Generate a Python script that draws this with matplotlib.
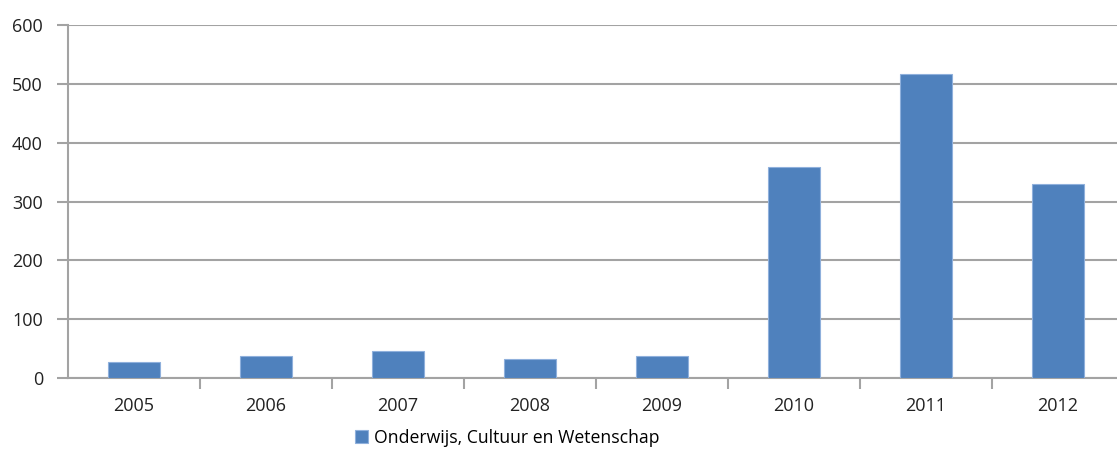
import numpy as np
import matplotlib.pyplot as plt

# yearly amounts for the education/culture/science ministry
years = ["2005", "2006", "2007", "2008", "2009", "2010", "2011", "2012"]
values = [28, 38, 46, 32, 38, 359, 517, 329]
series_name = "Onderwijs, Cultuur en Wetenschap"

plt.rcParams["font.family"] = ["Open Sans", "DejaVu Sans"]

grey = "#a3a3a3"
bar_color = "#4f81bd"

fig = plt.figure(figsize=(11.17, 4.58), dpi=100)
ax = fig.add_axes([68 / 1117, 1 - 378 / 458, 1056 / 1117, (378 - 25) / 458])

x = np.arange(len(years))
bars = ax.bar(x, values, width=0.4, color=bar_color, edgecolor="#8fb0dc",
              linewidth=0.8, zorder=3, label=series_name)

ax.set_xlim(-0.5, len(years) - 0.5)
ax.set_ylim(0, 600)
ax.set_yticks(np.arange(0, 601, 100))
ax.grid(axis="y", color=grey, linewidth=1.5, zorder=0)

# category labels in the middle, tick marks on the boundaries
ax.set_xticks(x)
ax.set_xticklabels(years, fontsize=13, color="#222222")
ax.set_xticks(np.arange(0.5, len(years) - 0.5, 1), minor=True)
ax.tick_params(axis="x", which="major", length=0, pad=14)
ax.tick_params(axis="x", which="minor", length=8, width=1.5, color=grey)
ax.tick_params(axis="y", length=8, width=1.5, color=grey, pad=10,
               labelsize=13, labelcolor="#222222")

for side in ["top", "right"]:
    ax.spines[side].set_visible(False)
for side in ["left", "bottom"]:
    ax.spines[side].set_color(grey)
    ax.spines[side].set_linewidth(1.5)

fig.legend(handles=[bars], labels=[series_name], loc="lower left",
           bbox_to_anchor=(339 / 1117, -0.01), frameon=False, fontsize=12.7,
           handlelength=0.75, handleheight=0.75, handletextpad=0.35)

fig.savefig("out.png", dpi=100)
